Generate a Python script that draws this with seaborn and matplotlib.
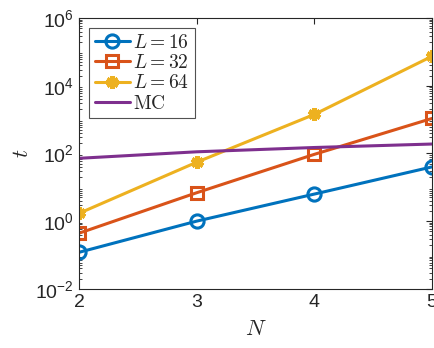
import numpy as np
import pandas as pd
import matplotlib
matplotlib.use("Agg")
import matplotlib.pyplot as plt
import seaborn as sns
from matplotlib.ticker import LogLocator, NullFormatter

N = [2, 3, 4, 5]
t_L16 = [0.12, 1.0, 6.3, 40]
t_L32 = [0.44, 6.9, 94, 1080]
t_L64 = [1.7, 55, 1420, 74000]
t_MC = [72, 112, 150, 190]

sns.set_style('white')
plt.rcParams['font.family'] = ['Liberation Sans', 'DejaVu Sans']
plt.rcParams['mathtext.fontset'] = 'cm'

fig = plt.figure(figsize=(4.34, 3.48), dpi=100)
ax = fig.add_axes([0.182, 0.17, 0.813, 0.778])

blue = '#0072BD'
orange = '#D95319'
yellow = '#EDB120'
purple = '#7E2F8E'

sns.lineplot(x=N, y=t_L16, ax=ax, color=blue, lw=2.2, marker='o', ms=9.5,
             mfc='none', mec=blue, mew=2.2, label='$L=16$')
sns.lineplot(x=N, y=t_L32, ax=ax, color=orange, lw=2.2, marker='s', ms=8,
             mfc='none', mec=orange, mew=2.2, label='$L=32$')
sns.lineplot(x=N, y=t_L64, ax=ax, color=yellow, lw=2.2, marker=(6, 2, 0), ms=9,
             mec=yellow, mew=3.5, label='$L=64$')
sns.lineplot(x=N, y=t_MC, ax=ax, color=purple, lw=2.2, label=r'$\mathrm{MC}$')

ax.set_yscale('log')
ax.set_xlim(2, 5)
ax.set_ylim(1e-2, 1e6)
ax.set_xticks([2, 3, 4, 5])
ax.set_yticks([1e-2, 1e0, 1e2, 1e4, 1e6])
ax.yaxis.set_minor_locator(LogLocator(base=10, subs=np.arange(2, 10), numticks=20))
ax.yaxis.set_minor_formatter(NullFormatter())
ax.tick_params(which='both', direction='in', top=True, right=True, labelsize=14)
ax.tick_params(which='major', length=4, width=0.8)
ax.tick_params(which='minor', length=2, width=0.6, left=True, right=True)
for s in ax.spines.values():
    s.set_linewidth(0.8)
    s.set_color('#262626')

ax.set_xlabel('$N$', fontsize=16, labelpad=6)
ax.set_ylabel('$t$', fontsize=16, labelpad=2)

leg = ax.legend(loc='upper left', fontsize=14, frameon=True, fancybox=False,
                edgecolor='#262626', borderpad=0.3, labelspacing=0.12,
                handlelength=1.8, handletextpad=0.2, borderaxespad=0.5)
leg.get_frame().set_linewidth(0.8)

fig.savefig('out.png', dpi=100)
